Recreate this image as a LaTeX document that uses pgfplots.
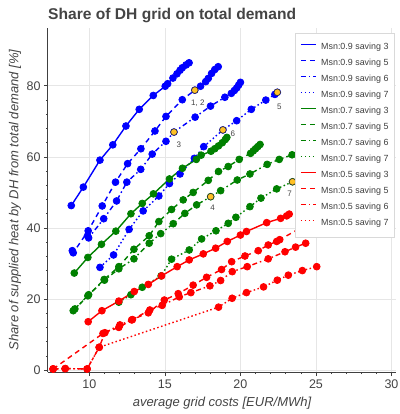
\documentclass[border=0pt]{standalone}
\usepackage{fontspec}
\setmainfont{Liberation Sans}
\usepackage{pgfplots}
\pgfplotsset{compat=1.18}
\definecolor{bk}{HTML}{0000FF}
\definecolor{gk}{HTML}{008000}
\definecolor{rk}{HTML}{FF0000}
\definecolor{gold}{HTML}{FFC125}
\definecolor{txt}{HTML}{444444}
\definecolor{gridc}{HTML}{E6E6E6}
\pgfplotsset{
 ser/.style={color=#1, line width=1.4pt, mark=*, mark size=3.4pt, mark options={solid, fill=#1, draw=#1, line width=0.8pt}},
 s3/.style={solid},
 s5/.style={dash pattern=on 5pt off 4pt},
 s6/.style={dash pattern=on 5pt off 3pt on 1.5pt off 3pt},
 s7/.style={dash pattern=on 1.5pt off 2.5pt},
}
\begin{document}
\begin{tikzpicture}
\begin{axis}[
 scale only axis, width=348pt, height=344pt,
 xmin=7.26, xmax=30.3, ymin=-0.56, ymax=96.3,
 clip=false,
 axis x line*=bottom, axis y line*=left,
 axis line style={black!75, line width=1pt, -},
 xtick={10,15,20,25,30}, xticklabels={10,15,20,25,30},
 ytick={0,20,40,60,80}, yticklabels={0,20,40,60,80},
 minor x tick num=4, minor y tick num=4,
 tick align=outside, major tick length=4pt, minor tick length=2pt,
 tick style={black!75, line width=0.8pt},
 minor tick style={line width=0.6pt},
 grid=major, major grid style={gridc, line width=0.8pt},
 tick label style={font=\fontsize{12.5}{14}\selectfont, text=txt},
 title={Share of DH grid on total demand},
 title style={at={(axis description cs:0,1)}, anchor=base west, yshift=2pt, inner sep=0pt, font=\bfseries\fontsize{15.6}{18}\selectfont, text=txt},
 xlabel={average grid costs [EUR/MWh]},
 xlabel style={at={(axis description cs:0.5,-0.09)}, anchor=center, font=\itshape\fontsize{13}{15}\selectfont, text=txt},
 ylabel={Share of supplied heat by DH from total demand [\%]},
 ylabel style={at={(axis description cs:-0.095,0.5)}, anchor=center, font=\itshape\fontsize{13}{15}\selectfont, text=txt},
 legend style={at={(axis description cs:0.710,0.985)}, anchor=north west, draw=gray!30, fill=white,
   font=\fontsize{8.9}{10}\selectfont, text=black!75, inner xsep=5pt, inner ysep=9pt, row sep=6pt,
   nodes={inner sep=0.5pt, text height=7pt, text depth=2pt}},
 legend cell align=left,
 legend image code/.code={\draw[#1, mark=none] (0pt,3pt) -- (15pt,3pt); \path (19pt,0pt);},
]
% Msn 0.9
\addplot[ser=bk, s3] coordinates {(8.8,46.3)(9.6,51.5)(10.7,59.1)(11.55,63.4)(12.42,68.7)(13.3,73.4)(14.23,77.3)(15.02,79.9)(15.18,80.6)(15.53,82.2)(15.8,83.4)(16.0,84.4)(16.15,85.1)(16.4,85.9)(16.6,86.5)};
\addlegendentry{Msn:0.9 saving 3}
\addplot[ser=bk, s5] coordinates {(8.87,33.6)(8.93,33.0)(9.92,39.2)(10.85,46.2)(11.73,52.9)(12.53,58.1)(13.41,62.3)(14.34,67.3)(15.07,71.4)(16.15,76.1)(16.98,78.8)(17.36,79.9)(17.7,81.2)(17.87,82.1)(18.09,83.5)(18.3,84.6)(18.53,85.4)};
\addlegendentry{Msn:0.9 saving 5}
\addplot[ser=bk, s6] coordinates {(9.88,37.8)(9.95,37.2)(10.95,42.6)(11.8,47.6)(12.48,52.9)(13.4,56.5)(14.16,60.8)(15.07,64.4)(15.6,67.0)(17.0,71.2)(18.02,74.3)(18.97,76.8)(19.4,77.9)(19.6,78.7)(19.75,79.4)(19.88,80.2)(20.0,81.0)};
\addlegendentry{Msn:0.9 saving 6}
\addplot[ser=bk, s7] coordinates {(10.7,28.9)(11.6,32.4)(12.63,39.6)(13.56,44.8)(14.6,49.0)(15.3,52.5)(16.0,55.2)(16.95,59.6)(17.57,62.9)(18.84,67.6)(19.75,70.2)(20.72,73.4)(21.68,76.0)(22.28,77.6)(22.44,78.2)};
\addlegendentry{Msn:0.9 saving 7}
% Msn 0.7
\addplot[ser=gk, s3] coordinates {(9.0,27.3)(9.9,31.7)(10.8,35.4)(11.75,39.1)(12.75,44.0)(13.5,46.9)(14.24,49.6)(15.3,53.8)(16.16,56.8)(17.08,59.3)(17.4,60.5)(18.05,61.6)(18.3,62.3)(18.55,63.1)(18.8,64.0)(19.0,64.9)(19.1,65.5)};
\addlegendentry{Msn:0.7 saving 3}
\addplot[ser=gk, s5] coordinates {(8.93,16.7)(9.9,20.9)(10.98,25.5)(11.95,29.1)(12.95,34.0)(13.96,37.8)(14.6,41.8)(15.44,45.2)(16.21,47.9)(16.87,50.0)(17.87,53.4)(18.55,55.9)(19.19,57.3)(19.92,59.3)(20.67,61.0)(20.85,61.7)(21.0,62.3)(21.15,62.9)(21.3,63.5)};
\addlegendentry{Msn:0.7 saving 5}
\addplot[ser=gk, s6] coordinates {(9.04,17.2)(9.95,21.2)(11.0,25.3)(11.95,28.5)(12.95,31.3)(13.96,35.7)(14.72,38.4)(15.55,41.2)(16.32,44.1)(17.1,46.5)(18.03,48.8)(18.69,50.5)(19.79,53.5)(20.63,55.2)(21.77,57.9)(22.57,59.3)(23.42,60.6)};
\addlegendentry{Msn:0.7 saving 6}
\addplot[ser=gk, s7] coordinates {(11.95,19.1)(12.75,21.2)(13.5,23.3)(14.75,26.5)(15.44,31.2)(16.61,33.8)(17.43,36.9)(18.38,39.2)(19.19,41.3)(19.7,43.0)(20.63,46.0)(21.36,48.4)(22.4,51.0)(23.45,53.0)};
\addlegendentry{Msn:0.7 saving 7}
% Msn 0.5
\addplot[ser=rk, s3] coordinates {(9.92,13.6)(10.83,16.7)(11.95,19.4)(12.97,22.1)(13.9,24.1)(14.78,26.5)(15.81,29.1)(16.61,31.0)(17.54,32.7)(18.36,34.3)(19.13,36.2)(20.0,38.0)(20.4,39.0)(21.74,41.5)(22.66,42.7)(23.06,43.4)(23.23,43.9)};
\addlegendentry{Msn:0.5 saving 3}
\addplot[ser=rk, s5] coordinates {(7.6,0.3)(10.9,10.3)(11.95,12.0)(12.8,14.1)(13.9,16.1)(14.96,19.7)(15.88,21.5)(16.87,23.9)(17.76,26.1)(18.75,28.3)(19.42,30.5)(20.3,32.1)(21.18,33.6)(21.84,35.2)(22.4,36.2)(22.6,36.7)(24.2,40.5)};
\addlegendentry{Msn:0.5 saving 5}
\addplot[ser=rk, s6] coordinates {(7.6,0.3)(8.4,0.4)(9.85,0.3)(10.65,6.4)(11.03,10.5)(12.02,12.7)(12.85,14.2)(14.0,16.9)(14.82,18.2)(15.95,20.6)(16.72,21.8)(17.98,23.7)(18.69,25.2)(19.46,27.7)(20.45,29.1)(21.84,31.3)(22.95,33.3)(23.65,34.6)(24.32,35.7)};
\addlegendentry{Msn:0.5 saving 6}
\addplot[ser=rk, s7] coordinates {(7.6,0.3)(8.4,0.4)(9.85,0.3)(10.65,6.4)(18.55,17.7)(19.45,20.2)(20.4,21.8)(21.53,23.4)(22.44,25.3)(23.17,26.7)(24.1,28.0)(25.05,29.1)};
\addlegendentry{Msn:0.5 saving 7}
% highlighted points
\addplot[forget plot, only marks, mark=*, mark size=3.3pt,
  mark options={solid, fill=gold, draw=black!80, line width=0.6pt},
  point meta=explicit symbolic,
  visualization depends on={value \thisrow{dx}\as\dx},
  visualization depends on={value \thisrow{dy}\as\dy},
  nodes near coords,
  nodes near coords style={anchor=center, xshift=\dx pt, yshift=\dy pt, font=\fontsize{8}{9}\selectfont, text=txt, inner sep=0pt}]
  table[col sep=semicolon, row sep=\\, meta=lab] {
x;y;dx;dy;lab\\
16.98;78.8;3;-13;1, 2\\
15.6;67.0;5;-13;3\\
22.44;78.2;2;-15;5\\
18.84;67.6;10;-4;6\\
18.03;48.8;2;-11;4\\
23.45;53.0;-3;-12;7\\
};
\end{axis}
\pgfresetboundingbox
\path[use as bounding box] (-48pt,-42pt) rectangle (351pt,372pt);
\end{tikzpicture}
\end{document}
